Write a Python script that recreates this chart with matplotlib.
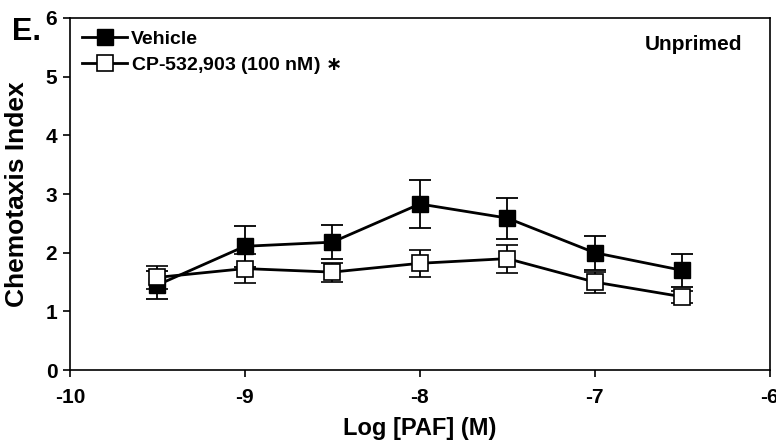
import matplotlib
matplotlib.use("Agg")
import matplotlib.pyplot as plt
from matplotlib.lines import Line2D

plt.rcParams['font.family'] = ['Liberation Sans', 'DejaVu Sans']
plt.rcParams['font.weight'] = 'bold'
plt.rcParams['axes.unicode_minus'] = False

# log concentration of PAF
log_paf = [-9.5, -9.0, -8.5, -8.0, -7.5, -7.0, -6.5]

vehicle = [1.45, 2.11, 2.18, 2.83, 2.59, 2.00, 1.70]
vehicle_err = [0.24, 0.35, 0.29, 0.41, 0.35, 0.29, 0.28]

cp = [1.58, 1.73, 1.67, 1.82, 1.90, 1.50, 1.25]
cp_err = [0.19, 0.25, 0.16, 0.23, 0.24, 0.18, 0.10]

x_ticks = [-10, -9, -8, -7, -6]
y_ticks = [0, 1, 2, 3, 4, 5, 6]

fig = plt.figure(figsize=(7.76, 4.46), dpi=100)
ax = fig.add_axes([0.090, 0.170, 0.902, 0.790])

ax.errorbar(log_paf, vehicle, yerr=vehicle_err, color='black', lw=2.0,
            marker='s', ms=11, mfc='black', mec='black',
            ecolor='black', elinewidth=1.3, capsize=8, capthick=1.3, zorder=3)
ax.errorbar(log_paf, cp, yerr=cp_err, color='black', lw=2.0,
            marker='s', ms=11, mfc='white', mec='black', mew=1.2,
            ecolor='black', elinewidth=1.3, capsize=8, capthick=1.3, zorder=4)

ax.set_xlim(-10, -6)
ax.set_ylim(0, 6)
ax.set_xticks(x_ticks)
ax.set_yticks(y_ticks)
ax.tick_params(labelsize=15, width=1.2, length=5)
ax.tick_params(axis='x', pad=8)
ax.tick_params(axis='y', pad=4)
for s in ax.spines.values():
    s.set_linewidth(1.2)

ax.set_xlabel('Log [PAF] (M)', fontsize=17, fontweight='bold', labelpad=7)
ax.set_ylabel('Chemotaxis Index', fontsize=19, fontweight='bold', labelpad=12)

ax.text(0.96, 0.95, 'Unprimed', transform=ax.transAxes, ha='right', va='top',
        fontsize=15, fontweight='bold')
fig.text(0.016, 0.928, 'E.', fontsize=22, fontweight='bold', ha='left', va='center')

handles = [
    Line2D([], [], color='black', lw=2.0, marker='s', ms=11, mfc='black', mec='black'),
    Line2D([], [], color='black', lw=2.0, marker='s', ms=11, mfc='white', mec='black', mew=1.2),
]
labels = ['Vehicle', 'CP-532,903 (100 nM) $\\ast$']
ax.legend(handles, labels, loc='upper left', frameon=False, fontsize=14,
          handlelength=2.3, borderaxespad=0.1, borderpad=0.55,
          handletextpad=0.2, labelspacing=0.35)

fig.savefig('out.png', dpi=100)
